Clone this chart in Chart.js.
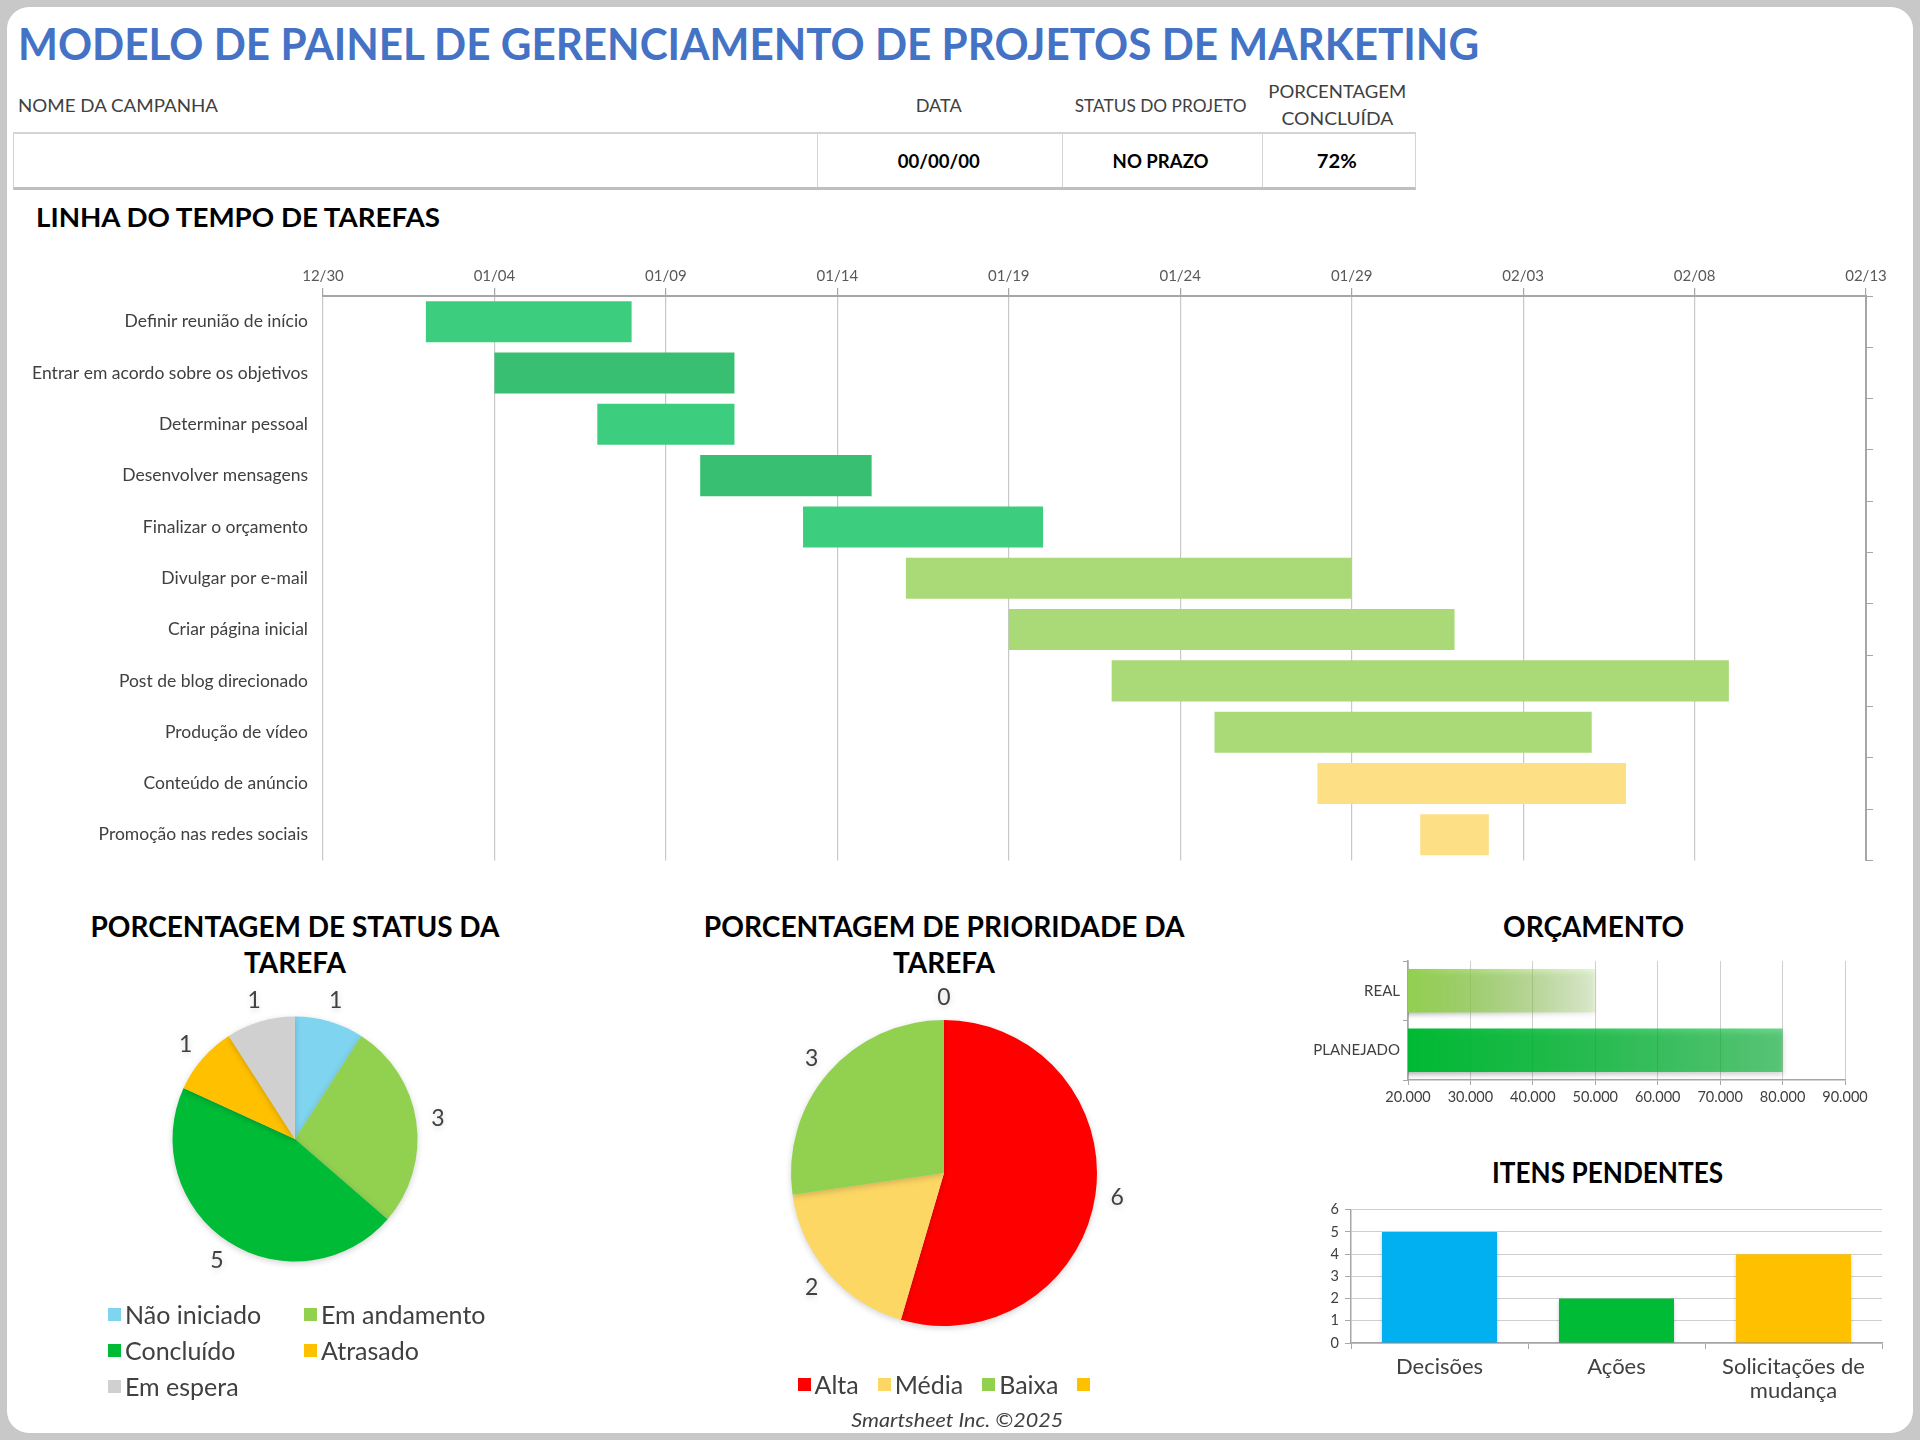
<!DOCTYPE html>
<html lang="pt-BR">
<head>
<meta charset="utf-8">
<title>Modelo de painel de gerenciamento de projetos de marketing</title>
<script src="https://cdn.jsdelivr.net/npm/chart.js@4.4.1/dist/chart.umd.min.js"></script>
<style>
html,body{margin:0;padding:0;width:1920px;height:1440px;background:#c8c8c8;overflow:hidden;font-family:Lato,"Liberation Sans",sans-serif;color:#404040;}
#panel{position:absolute;left:7px;top:7px;width:1906px;height:1426px;background:#fff;border-radius:22px;}
.t{position:absolute;white-space:nowrap;}
.c{position:absolute;white-space:nowrap;width:800px;margin-left:-400px;text-align:center;}
.c span,.t span{display:inline-block;}
.h{font-size:17px;color:#404040;line-height:20px;}
.sec{font-weight:700;color:#000;font-size:28px;line-height:36px;}
canvas{position:absolute;}
#table{position:absolute;left:13px;top:132px;width:1401px;height:53px;border-top:2px solid #d4d4d4;border-bottom:3px solid #bfbfbf;border-left:1px solid #d4d4d4;border-right:1px solid #d4d4d4;}
.col{position:absolute;top:0;bottom:0;border-left:1px solid #d4d4d4;}
.val{font-weight:700;font-size:18px;color:#000;line-height:22px;}
.legend{position:absolute;font-size:25px;color:#404040;line-height:30px;}
.legend .it{position:absolute;white-space:nowrap;display:flex;align-items:center;}
.legend .bx{width:13px;height:13px;margin-right:4px;display:inline-block;}
#leg2{display:flex;justify-content:center;gap:19px;width:600px;margin-left:-300px;left:946px;top:1369px;}
#leg2 .it{position:static;}
</style>
</head>
<body>
<div id="panel"></div>

<div class="t" style="left:18px;top:20px;font-size:44px;line-height:46px;font-weight:700;color:#4472c4;"><span data-w="1461" data-o="left">MODELO DE PAINEL DE GERENCIAMENTO DE PROJETOS DE MARKETING</span></div>

<div class="t h" style="left:18px;top:96px;"><span data-w="200" data-o="left">NOME DA CAMPANHA</span></div>
<div class="c h" style="left:939px;top:96px;"><span data-w="46">DATA</span></div>
<div class="c h" style="left:1161px;top:96px;"><span data-w="172">STATUS DO PROJETO</span></div>
<div class="c h" style="left:1337px;top:82px;"><span data-w="138">PORCENTAGEM</span></div>
<div class="c h" style="left:1337px;top:109px;"><span data-w="112">CONCLUÍDA</span></div>

<div id="table">
  <div class="col" style="left:803px"></div>
  <div class="col" style="left:1048px"></div>
  <div class="col" style="left:1248px"></div>
</div>
<div class="c val" style="left:939px;top:150px;"><span data-w="82">00/00/00</span></div>
<div class="c val" style="left:1161px;top:150px;"><span data-w="96">NO PRAZO</span></div>
<div class="c val" style="left:1337px;top:150px;"><span data-w="40">72%</span></div>

<div class="t" style="left:36px;top:202px;font-size:27px;line-height:30px;font-weight:700;color:#000;"><span data-w="404" data-o="left">LINHA DO TEMPO DE TAREFAS</span></div>

<canvas id="gantt"></canvas>

<div class="c sec" style="left:295px;top:908px;"><span data-w="409">PORCENTAGEM DE STATUS DA</span></div>
<div class="c sec" style="left:295px;top:944px;"><span data-w="102">TAREFA</span></div>
<canvas id="pie1"></canvas>
<div id="leg1" class="legend"></div>

<div class="c sec" style="left:944px;top:908px;"><span data-w="481">PORCENTAGEM DE PRIORIDADE DA</span></div>
<div class="c sec" style="left:944px;top:944px;"><span data-w="102">TAREFA</span></div>
<canvas id="pie2"></canvas>
<div id="leg2" class="legend"></div>

<div class="c sec" style="left:1594px;top:908px;"><span data-w="181">ORÇAMENTO</span></div>
<canvas id="budget"></canvas>

<div class="c sec" style="left:1608px;top:1154px;"><span data-w="231">ITENS PENDENTES</span></div>
<canvas id="pending"></canvas>

<div class="c" style="left:957px;top:1408px;font-size:19px;line-height:24px;font-style:italic;color:#404040;"><span data-w="212">Smartsheet Inc. ©2025</span></div>

<script>
// ---------------- DATA ----------------
const axisStart = '12/30';
const tickLabels = ['12/30','01/04','01/09','01/14','01/19','01/24','01/29','02/03','02/08','02/13'];
const taskNames = ['Definir reunião de início','Entrar em acordo sobre os objetivos','Determinar pessoal','Desenvolver mensagens','Finalizar o orçamento','Divulgar por e-mail','Criar página inicial','Post de blog direcionado','Produção de vídeo','Conteúdo de anúncio','Promoção nas redes sociais'];
const taskStart = ['01/02','01/04','01/07','01/10','01/13','01/16','01/19','01/22','01/25','01/28','01/31'];
const taskDays  = [6,7,4,5,7,13,13,18,11,9,2];

const statusLabels = ['Não iniciado','Em andamento','Concluído','Atrasado','Em espera'];
const statusValues = [1,3,5,1,1];

const priorityLabels = ['Alta','Média','Baixa',''];
const priorityValues = [6,2,3,0];

const budgetLabels = ['REAL','PLANEJADO'];
const budgetValues = [50000,80000];

const pendingLabels = ['Decisões','Ações',['Solicitações de','mudança']];
const pendingValues = [5,2,4];

// ---------------- STYLES ----------------
const taskColors = ['#3dcd7f','#39bf72','#3dcd7f','#39bf72','#3dcd7f','#a9da77','#a9da77','#a9da77','#a9da77','#fddf86','#fddf86'];
const statusColors = ['#7fd4ef','#92d050','#00bb35','#ffc000','#d0d0d0'];
const priorityColors = ['#ff0000','#fdd764','#92d050','#ffc000'];
const pendingColors = ['#00b0f0','#00bb35','#ffc000'];
const budgetGrad = [['#92d050','rgba(146,208,80,0.22)'],['#00b933','rgba(0,185,51,0.58)']];

Chart.defaults.font.family = 'Lato, "Liberation Sans", sans-serif';
Chart.defaults.color = '#404040';

function dayOf(md){
  const [m0,d0] = axisStart.split('/').map(Number);
  const [m,d] = md.split('/').map(Number);
  const base = Date.UTC(2024, m0-1, d0);
  const y = m < m0 ? 2025 : 2024;
  return Math.round((Date.UTC(y, m-1, d) - base) / 86400000);
}
function place(id, left, top, w, h){
  const c = document.getElementById(id);
  c.style.left = left+'px'; c.style.top = top+'px';
  c.width = w; c.height = h; c.style.width = w+'px'; c.style.height = h+'px';
  return c;
}
const shadow = (alpha, blur, oy) => ({
  id:'shadow',
  beforeDatasetsDraw(chart){ const c=chart.ctx; c.save(); c.shadowColor='rgba(0,0,0,'+alpha+')'; c.shadowBlur=blur; c.shadowOffsetY=oy; c.shadowOffsetX=0; },
  afterDatasetsDraw(chart){ chart.ctx.restore(); }
});
const outLabels = {
  id:'outLabels',
  afterDatasetsDraw(chart, args, opts){
    const ctx = chart.ctx, meta = chart.getDatasetMeta(0);
    ctx.save(); ctx.font = opts.font; ctx.fillStyle = opts.color; ctx.textAlign='center'; ctx.textBaseline='middle';
    meta.data.forEach((arc,i)=>{
      const v = chart.data.datasets[0].data[i];
      const mid = (arc.startAngle + arc.endAngle)/2;
      const r = arc.outerRadius + opts.offset;
      ctx.fillText(String(v), arc.x + Math.cos(mid)*r, arc.y + Math.sin(mid)*r);
    });
    ctx.restore();
  }
};

// ---------------- GANTT ----------------
place('gantt', 13, 250, 1890, 628);
new Chart(document.getElementById('gantt'), {
  type:'bar',
  data:{ labels: taskNames, datasets:[{
    data: taskNames.map((n,i)=>[dayOf(taskStart[i]), dayOf(taskStart[i]) + taskDays[i]]),
    backgroundColor: taskColors, borderWidth:0, barPercentage:0.8, categoryPercentage:1
  }]},
  options:{
    indexAxis:'y', responsive:false, animation:false,
    layout:{padding:{top:0,right:29,bottom:2,left:0}},
    plugins:{legend:{display:false}, tooltip:{enabled:false}},
    scales:{
      x:{ position:'top', min:0, max:45,
          ticks:{stepSize:5, autoSkip:false, maxRotation:0, padding:3, color:'#595959', font:{size:15},
                 callback:(v)=>tickLabels[Math.round(v/5)]},
          grid:{color:'#c8c8c8', lineWidth:1.2, tickLength:8, tickColor:'#a6a6a6'},
          border:{color:'#a6a6a6', width:2},
          afterFit:s=>{s.height=46;} },
      y:{ ticks:{color:'#404040', font:{size:17.5}, padding:7},
          grid:{display:false}, border:{display:false},
          afterFit:s=>{s.width=310;} },
      y2:{ type:'category', labels:taskNames, position:'right', offset:true,
           grid:{drawOnChartArea:false, offset:true, tickLength:7, color:'#a6a6a6'},
           ticks:{display:false}, border:{color:'#a6a6a6', width:2},
           afterFit:s=>{s.width=8;} }
    }
  }
});

// ---------------- PIE 1 ----------------
place('pie1', 125, 969, 340, 340);
const pie1 = new Chart(document.getElementById('pie1'), {
  type:'pie',
  data:{ labels: statusLabels, datasets:[{data: statusValues, backgroundColor: statusColors, borderWidth:0}]},
  options:{ responsive:false, animation:false, layout:{padding:47.5},
    plugins:{legend:{display:false}, tooltip:{enabled:false},
      outLabels:{font:'23px Lato, "Liberation Sans", sans-serif', color:'#404040', offset:22}}},
  plugins:[outLabels, shadow(0.18,6,2)]
});

// ---------------- PIE 2 ----------------
place('pie2', 744, 973, 400, 400);
const pie2 = new Chart(document.getElementById('pie2'), {
  type:'pie',
  data:{ labels: priorityLabels, datasets:[{data: priorityValues, backgroundColor: priorityColors, borderWidth:0}]},
  options:{ responsive:false, animation:false, layout:{padding:47},
    plugins:{legend:{display:false}, tooltip:{enabled:false},
      outLabels:{font:'23px Lato, "Liberation Sans", sans-serif', color:'#404040', offset:22}}},
  plugins:[outLabels, shadow(0.18,6,2)]
});

// HTML legends built from chart data
(function(){
  const l1 = document.getElementById('leg1');
  const pos = [[108,1299],[304,1299],[108,1335],[304,1335],[108,1371]];
  pie1.data.labels.forEach((lab,i)=>{
    const it = document.createElement('div'); it.className='it';
    it.style.left = pos[i][0]+'px'; it.style.top = pos[i][1]+'px';
    it.innerHTML = '<span class="bx" style="background:'+pie1.data.datasets[0].backgroundColor[i]+'"></span>'+lab;
    l1.appendChild(it);
  });
  const l2 = document.getElementById('leg2');
  pie2.data.labels.forEach((lab,i)=>{
    const it = document.createElement('div'); it.className='it';
    it.innerHTML = '<span class="bx" style="background:'+pie2.data.datasets[0].backgroundColor[i]+'"></span>'+lab;
    l2.appendChild(it);
  });
})();

// ---------------- BUDGET ----------------
place('budget', 1300, 949, 575, 165);
new Chart(document.getElementById('budget'), {
  type:'bar',
  data:{ labels: budgetLabels, datasets:[{
    data: budgetValues, borderWidth:0, barPercentage:0.73, categoryPercentage:1,
    backgroundColor:(c)=>{
      const ch = c.chart, ca = ch.chartArea;
      const g = budgetGrad[c.dataIndex % budgetGrad.length];
      if(!ca || !ch.scales.x) return g[0];
      const x1 = ch.scales.x.getPixelForValue(c.raw);
      const gr = ch.ctx.createLinearGradient(ca.left,0,x1,0);
      gr.addColorStop(0,g[0]); gr.addColorStop(1,g[1]);
      return gr;
    }
  }]},
  options:{
    indexAxis:'y', responsive:false, animation:false,
    layout:{padding:{top:11,right:30,bottom:0,left:0}},
    plugins:{legend:{display:false}, tooltip:{enabled:false}},
    scales:{
      x:{ min:20000, max:90000,
          ticks:{stepSize:10000, color:'#404040', font:{size:14.5}, padding:4, maxRotation:0,
                 callback:v=>Number(v).toLocaleString('pt-BR')},
          grid:{color:'#cfcfcf', tickLength:5, tickColor:'#a6a6a6'},
          border:{color:'#a6a6a6', width:1.5},
          afterFit:s=>{s.height=34;} },
      y:{ ticks:{color:'#404040', font:{size:15}, padding:3},
          grid:{drawOnChartArea:false, offset:true, tickLength:5, color:'#a6a6a6'},
          border:{color:'#a6a6a6', width:1.5},
          afterFit:s=>{s.width=108;} }
    }
  },
  plugins:[shadow(0.3,5,3)]
});

// ---------------- PENDING ----------------
place('pending', 1310, 1195, 582, 214);
new Chart(document.getElementById('pending'), {
  type:'bar',
  data:{ labels: pendingLabels, datasets:[{data: pendingValues, backgroundColor: pendingColors, borderWidth:0, barPercentage:0.65, categoryPercentage:1}]},
  options:{
    responsive:false, animation:false,
    layout:{padding:{top:14,right:10,bottom:0,left:0}},
    plugins:{legend:{display:false}, tooltip:{enabled:false}},
    scales:{
      x:{ ticks:{color:'#404040', font:{size:22, lineHeight:1.1}, padding:6, maxRotation:0, autoSkip:false},
          grid:{drawOnChartArea:false, offset:true, tickLength:6, color:'#a6a6a6'},
          border:{color:'#a6a6a6', width:1.5},
          afterFit:s=>{s.height=66;} },
      y:{ min:0, max:6,
          ticks:{stepSize:1, color:'#404040', font:{size:14.5}, padding:6},
          grid:{color:'#cfcfcf', tickLength:6, tickColor:'#a6a6a6'},
          border:{color:'#a6a6a6', width:1.5},
          afterFit:s=>{s.width=41;} }
    }
  },
  plugins:[shadow(0.2,4,2)]
});

// ---------------- fit text widths ----------------
document.querySelectorAll('[data-w]').forEach(el=>{
  const w = el.getBoundingClientRect().width;
  const target = +el.dataset.w;
  if(w>0){ el.style.transformOrigin = (el.dataset.o||'center')+' center'; el.style.transform='scaleX('+(target/w).toFixed(3)+')'; }
});
</script>
</body>
</html>
